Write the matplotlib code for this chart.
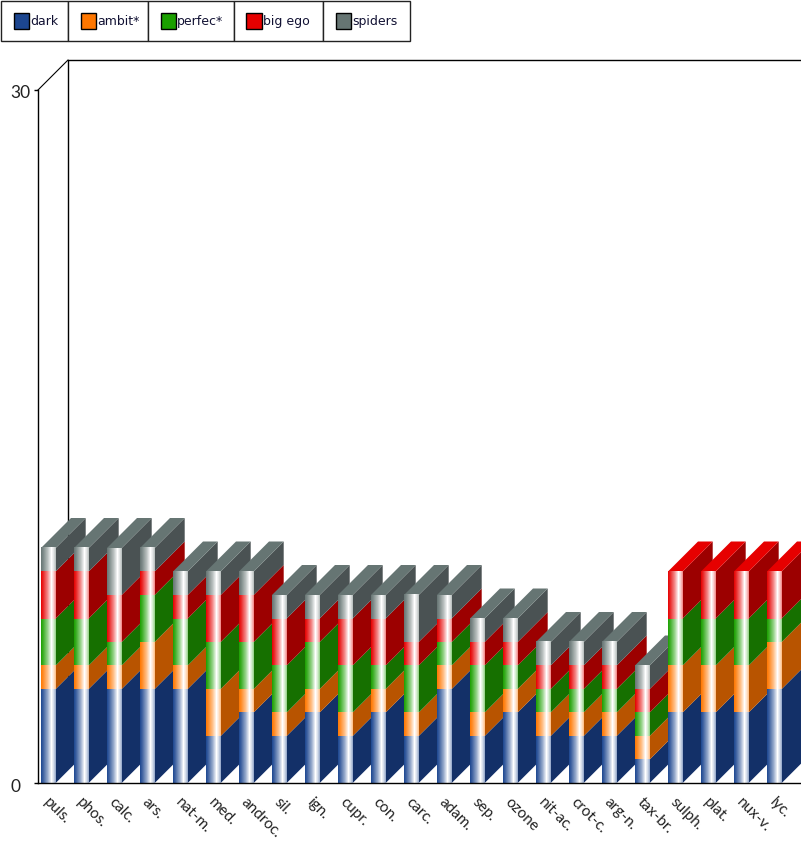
import numpy as np
import matplotlib
matplotlib.use('Agg')
from matplotlib import pyplot as plt
from matplotlib.patches import Rectangle
from matplotlib.transforms import ScaledTranslation

## Data ##
remedies = ['puls.', 'phos.', 'calc.', 'ars.', 'nat-m.', 'med.', 'androc.', 'sil.', 'ign.', 'cupr.',
            'con.', 'carc.', 'adam.', 'sep.', 'ozone', 'nit-ac.', 'crot-c.', 'arg-n.', 'tax-br.',
            'sulph.', 'plat.', 'nux-v.', 'lyc.']
dark = [4, 4, 4, 4, 4, 2, 3, 2, 3, 2, 3, 2, 4, 2, 3, 2, 2, 2, 1, 3, 3, 3, 4]
ambit = [1, 1, 1, 2, 1, 2, 1, 1, 1, 1, 1, 1, 1, 1, 1, 1, 1, 1, 1, 2, 2, 2, 2]
perfec = [2, 2, 1, 2, 2, 2, 2, 2, 2, 2, 1, 2, 1, 2, 1, 1, 1, 1, 1, 2, 2, 2, 1]
big_ego = [2, 2, 2, 1, 1, 2, 2, 2, 1, 2, 2, 1, 1, 1, 1, 1, 1, 1, 1, 2, 2, 2, 2]
spiders = [1, 1, 2, 1, 1, 1, 1, 1, 1, 1, 1, 2, 1, 1, 1, 1, 1, 1, 1, 0, 0, 0, 0]
series_names = ['dark', 'ambit*', 'perfec*', 'big ego', 'spiders']
series_values = [dark, ambit, perfec, big_ego, spiders]

## Styles ##
front_colors = ['#1c4690', '#ff7700', '#1ba000', '#e60000', '#667573']
side_colors = ['#133068', '#b85400', '#167000', '#9c0000', '#4a5253']

W, H = 801, 865
PITCH = 33.0          # px per category
UNIT = 23.5           # px per value unit
BAR_W = 14.7
DEPTH = 30.0          # px of the fake 3d offset
X0, Y0 = 38.0, 783.0  # front axis corner
Y_TOP = 60.0
AXIS_TOP = (Y0 - 90.0) / UNIT   # the axis marked 30 stops a bit short of 30 bar units

fig = plt.figure(figsize=(W / 100, H / 100), dpi=100)
ax = fig.add_axes([X0 / W, (H - Y0) / H, (W - X0) / W, (Y0 - Y_TOP) / H])
ax.patch.set_alpha(0)

# bar centre is 48.35 px at category 0
x_left = (X0 - 48.35) / PITCH
x_right = x_left + (W - X0) / PITCH
y_max = (Y0 - Y_TOP) / UNIT

dx = DEPTH / PITCH
dy = DEPTH / UNIT
bw = BAR_W / PITCH

## Back wall ##
ax.plot([x_left + dx, x_left + dx, x_right], [dy, y_max, y_max], color='black', lw=1, zorder=1, clip_on=False)
ax.plot([x_left, x_left + dx], [AXIS_TOP, y_max], color='black', lw=0.8, zorder=1, clip_on=False)


def gradient(color):
    # white band sits right of the middle, right edge stays tinted
    stops = [0.0, 0.15, 0.45, 0.7, 0.85, 1.0]
    mix = [0.0, 0.15, 0.55, 1.0, 0.8, 0.5]
    pos = (np.arange(15) + 0.5) / 15
    t = np.interp(pos, stops, mix)[:, None]
    rgb = np.array(matplotlib.colors.to_rgb(color))
    return (rgb * (1 - t) + t)[None, :, :]


## Bars, left to right so each one covers the side of the previous ##
z = 2
for i in range(len(remedies)):
    bottom = 0
    vals = [s[i] for s in series_values]
    top_idx = max(k for k, v in enumerate(vals) if v > 0)
    x0 = i - bw / 2
    x1 = i + bw / 2
    for k, v in enumerate(vals):
        if v == 0:
            continue
        ax.fill([x1, x1 + dx, x1 + dx, x1], [bottom, bottom + dy, bottom + v + dy, bottom + v],
                color=side_colors[k], lw=0, zorder=z)
        bottom += v
    # top face
    ax.fill([x0, x0 + dx, x1 + dx, x1], [bottom, bottom + dy, bottom + dy, bottom],
            color=front_colors[top_idx], lw=0, zorder=z)
    bottom = 0
    for k, v in enumerate(vals):
        if v == 0:
            continue
        b = ax.bar(i, v, width=bw, bottom=bottom, color=front_colors[k], lw=0, zorder=z + 1)[0]
        ax.imshow(gradient(front_colors[k]), extent=[b.get_x(), b.get_x() + b.get_width(), b.get_y(), b.get_y() + b.get_height()],
                  aspect='auto', interpolation='nearest', zorder=z + 1.5)
        bottom += v
    z += 2

ax.set_xlim(x_left, x_right)
ax.set_ylim(0, y_max)

## Axes ##
for name in ['top', 'right']:
    ax.spines[name].set_visible(False)
ax.spines['left'].set_bounds(0, AXIS_TOP)
ax.spines['left'].set_linewidth(1)
ax.spines['bottom'].set_linewidth(1)
ax.spines['left'].set_zorder(200)
ax.spines['bottom'].set_zorder(200)
ax.set_yticks([0, AXIS_TOP])
ax.set_yticklabels(['0', '30'], family='Lato', fontsize=12.5, color='#222222', ha='left')
ax.tick_params(axis='y', length=3, width=1, pad=17)
for lab, off in zip(ax.get_yticklabels(), [-2, -1]):
    lab.set_transform(lab.get_transform() + ScaledTranslation(0, off / 100, fig.dpi_scale_trans))
ax.set_xticks(range(len(remedies)))
ax.set_xticklabels(remedies, rotation=-45, ha='left', va='top', rotation_mode='anchor', family='Lato', fontsize=11, color='#222222')
ax.tick_params(axis='x', length=0, pad=9)
for lab in ax.get_xticklabels():
    lab.set_transform(lab.get_transform() + ScaledTranslation(2 / 100, 0, fig.dpi_scale_trans))

## Legend ##
legend_edges = [1, 68, 148, 234, 323, 410]
for n, name in enumerate(series_names):
    l, r = legend_edges[n], legend_edges[n + 1]
    fig.add_artist(Rectangle((l / W, 1 - 40.5 / H), (r - l) / W, 39.5 / H, transform=fig.transFigure,
                             fc='white', ec='#222222', lw=1))
    fig.add_artist(Rectangle(((l + 12.5) / W, 1 - 28.5 / H), 15.5 / W, 15.5 / H, transform=fig.transFigure,
                             fc=front_colors[n], ec='black', lw=1))
    fig.text((l + 29) / W, 1 - 21.5 / H, name, fontsize=9, color='#111133', va='center', ha='left', family='DejaVu Sans')

fig.savefig('out.png', dpi=100)
